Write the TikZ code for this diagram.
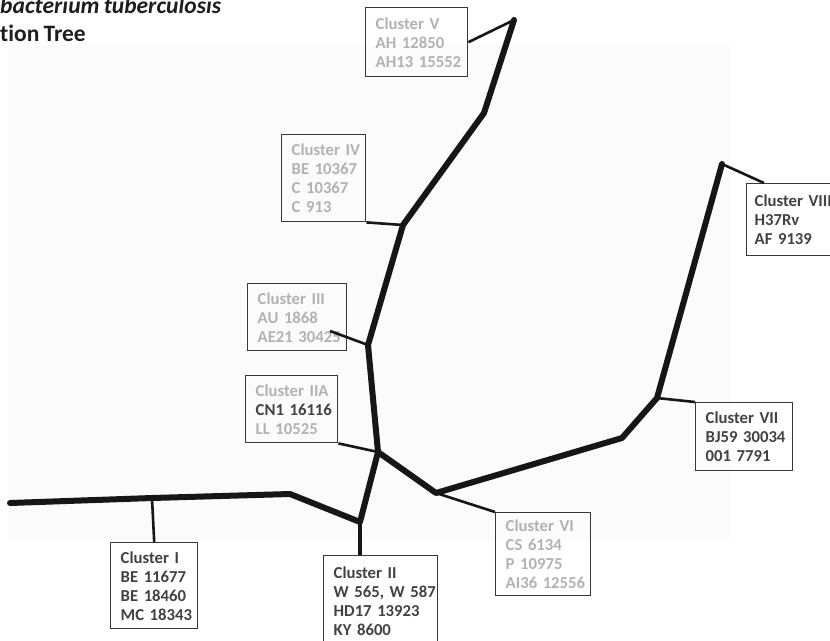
\documentclass[tikz,border=0pt]{standalone}
\usepackage{fontspec}
\setmainfont{Carlito}[Ligatures=NoCommon,WordSpace=0.8]
\usetikzlibrary{positioning}
\definecolor{lightlabel}{RGB}{178,178,178}
\definecolor{darklabel}{RGB}{66,66,66}
\definecolor{boxline}{RGB}{55,55,55}
\definecolor{treeline}{RGB}{22,22,22}
\definecolor{titlecol}{RGB}{30,30,30}
\definecolor{plotbg}{RGB}{251,251,251}

\begin{document}
\begin{tikzpicture}[x=1pt,y=-1pt]

	\tikzstyle{every node}=[font=\fontsize{16.7}{19}\selectfont\bfseries]
	\tikzstyle{cluster}=[rectangle,draw=boxline,line width=1.4pt,anchor=north west,align=left,inner xsep=10pt,inner ysep=0pt]
	\tikzstyle{branch}=[draw=treeline,line width=6pt,line join=round,line cap=round]
	\tikzstyle{twig}=[draw=treeline,line width=2.6pt]
	\tikzstyle{heading}=[anchor=base west,inner sep=0pt,text=titlecol,font=\fontsize{23.5}{28}\selectfont\bfseries]

	\clip (0,0) rectangle (830,640);
	\fill[plotbg] (8,45) rectangle (730,540);

	\node[heading,font=\fontsize{23.5}{28}\selectfont\bfseries\itshape] (title1) at (0,13) {bacterium tuberculosis};
	\node[heading] (title2) at (0,41) {tion Tree};

	% tree
	\coordinate (stem) at (10,503);
	\coordinate (j1) at (152,498);
	\coordinate (b1) at (290,494);
	\coordinate (j2) at (360,522);
	\coordinate (j2a) at (378,452);
	\coordinate (j3) at (368,345);
	\coordinate (j4) at (403,225);
	\coordinate (b5) at (484,113);
	\coordinate (j5) at (514,20);
	\coordinate (j6) at (436,493);
	\coordinate (b7) at (622,438);
	\coordinate (j7) at (657,398);
	\coordinate (j8) at (722,164);

	\draw[branch] (stem) -- (j1) -- (b1) -- (j2) -- (j2a) -- (j3) -- (j4) -- (b5) -- (j5);
	\draw[branch] (j2a) -- (j6) -- (b7) -- (j7) -- (j8);

	% clusters
	\node[cluster,text width=82pt,minimum height=69pt,text=lightlabel] (c5) at (365,7) {Cluster~V\\AH~12850\\AH13~15552};
	\node[cluster,text width=64pt,minimum height=87pt,text=lightlabel] (c4) at (281,134) {Cluster~IV\\BE~10367\\C~10367\\C~913};
	\node[cluster,text width=79pt,minimum height=67pt,text=lightlabel] (c3) at (247,283) {Cluster~III\\AU~1868\\AE21~30425};
	\node[cluster,text width=72pt,minimum height=67pt,text=lightlabel] (c2a) at (245,375) {Cluster~IIA\\\textcolor{darklabel}{CN1~16116}\\LL~10525};
	\node[cluster,text width=67pt,minimum height=86pt,text=darklabel] (c1) at (110,542) {Cluster~I\\BE~11677\\BE~18460\\MC~18343};
	\node[cluster,text width=94pt,minimum height=90pt,text=darklabel] (c2) at (323,555) {Cluster~II\\W~565,~W~587\\HD17~13923\\KY~8600};
	\node[cluster,text width=75pt,minimum height=83pt,text=lightlabel] (c6) at (495,512) {Cluster~VI\\CS~6134\\P~10975\\AI36~12556};
	\node[cluster,text width=77pt,minimum height=68pt,text=darklabel] (c7) at (695,402) {Cluster~VII\\BJ59~30034\\001~7791};
	\node[cluster,inner xsep=8pt,text width=94pt,minimum height=72pt,text=darklabel] (c8) at (746,183) {Cluster~VIII\\H37Rv\\AF~9139};

	\coordinate (c3tip) at (330,331);

	\draw[twig] (j1) -- (c1.north);
	\draw[draw=treeline,line width=4pt] (j2) -- (j2 |- c2.north);
	\draw[twig] (c3tip) -- (j3);
	\draw[twig] (c4.south east) -- (j4);
	\draw[twig] (c5.east) -- (j5);
	\draw[twig] (c2a.south east) -- (j2a);
	\draw[twig] (j6) -- (c6.north west);
	\draw[twig] (j7) -- (c7.north west);
	\draw[twig] (j8) -- ([xshift=18pt]c8.north west);

\end{tikzpicture}
\end{document}
